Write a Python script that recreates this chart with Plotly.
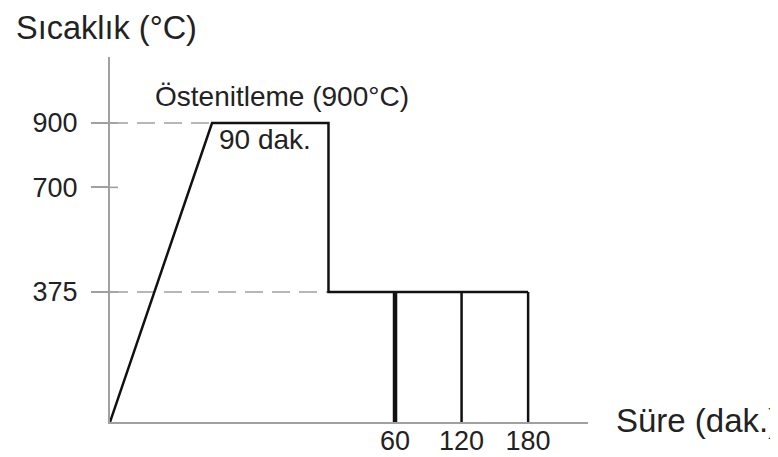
import plotly.graph_objects as go

# ---- data (schematic heat-treatment cycle) ----
y_tick_vals = [375, 700, 900]
austenite_temp = 900
iso_temp = 375
y_min = -29            # axis origin level (ramp starts at the origin)
y_max = 1105
ramp_end = 92          # schematic time where heating reaches 900 °C
hold_end = 197         # end of 90 min hold (schematic)
iso_times = [60, 120, 180]
x_max = 431
iso_widths = [4.5, 2.5, 2.5]

FONT = "Liberation Sans, Arial, sans-serif"
GRAY = "#a0a0a0"
BLACK = "#111111"

fig = go.Figure()

# dashed reference lines
fig.add_trace(go.Scatter(x=[0, ramp_end], y=[austenite_temp, austenite_temp], mode="lines",
                         line=dict(color=GRAY, width=1.6, dash="18px,9px"), hoverinfo="skip"))
fig.add_trace(go.Scatter(x=[0, hold_end], y=[iso_temp, iso_temp], mode="lines",
                         line=dict(color=GRAY, width=1.6, dash="18px,9px"), hoverinfo="skip"))

# main cycle
fig.add_trace(go.Scatter(
    x=[0, ramp_end, hold_end, hold_end, hold_end + iso_times[-1]],
    y=[y_min, austenite_temp, austenite_temp, iso_temp, iso_temp],
    mode="lines", line=dict(color=BLACK, width=2.5), hoverinfo="skip"))

# quench lines at isothermal times
for t, w in zip(iso_times, iso_widths):
    fig.add_trace(go.Scatter(x=[hold_end + t, hold_end + t], y=[iso_temp, y_min], mode="lines",
                             line=dict(color=BLACK, width=w), hoverinfo="skip"))

# inner part of y ticks (crossing the axis)
for v in y_tick_vals:
    fig.add_shape(type="line", xref="paper", yref="y", x0=0, x1=8 / 478, y0=v, y1=v,
                  line=dict(color=GRAY, width=1.6))

fig.add_annotation(x=155, y=982, xref="x", yref="y",
                   text="Östenitleme (900°C)", showarrow=False,
                   font=dict(family=FONT, size=28, color="#222"), xanchor="center", yanchor="middle")
fig.add_annotation(x=140, y=850, xref="x", yref="y", text="90 dak.", showarrow=False,
                   font=dict(family=FONT, size=28, color="#222"), xanchor="center", yanchor="middle")
fig.add_annotation(x=-0.201, y=1.134, xref="paper", yref="paper", text="Sıcaklık (°C)",
                   showarrow=False, font=dict(family=FONT, size=32.5, color="#222"),
                   xanchor="left", yanchor="top")
fig.add_annotation(x=1.055, y=0.005, xref="paper", yref="paper", text="Süre (dak.)",
                   showarrow=False, font=dict(family=FONT, size=33, color="#222"),
                   xanchor="left", yanchor="middle")

fig.update_layout(
    width=770, height=449,
    margin=dict(l=102, r=190, t=49, b=35, pad=0),
    paper_bgcolor="white", plot_bgcolor="white",
    showlegend=False,
    xaxis=dict(range=[0, x_max], showgrid=False, zeroline=False, showline=True,
               linecolor=GRAY, linewidth=2, ticks="", ticklen=0, automargin=False,
               tickvals=[hold_end + t for t in iso_times], ticktext=[str(t) for t in iso_times],
               tickfont=dict(family=FONT, size=27, color="#222"), ticklabelstandoff=-6),
    yaxis=dict(range=[y_min, y_max], showgrid=False, zeroline=False, showline=True,
               linecolor=GRAY, linewidth=2, ticks="outside", ticklen=17, tickcolor=GRAY,
               tickwidth=1.6, tickvals=y_tick_vals, ticktext=[str(v) for v in y_tick_vals],
               automargin=False,
               tickfont=dict(family=FONT, size=27, color="#222"), ticklabelstandoff=8),
)

fig.write_html("out.html")
